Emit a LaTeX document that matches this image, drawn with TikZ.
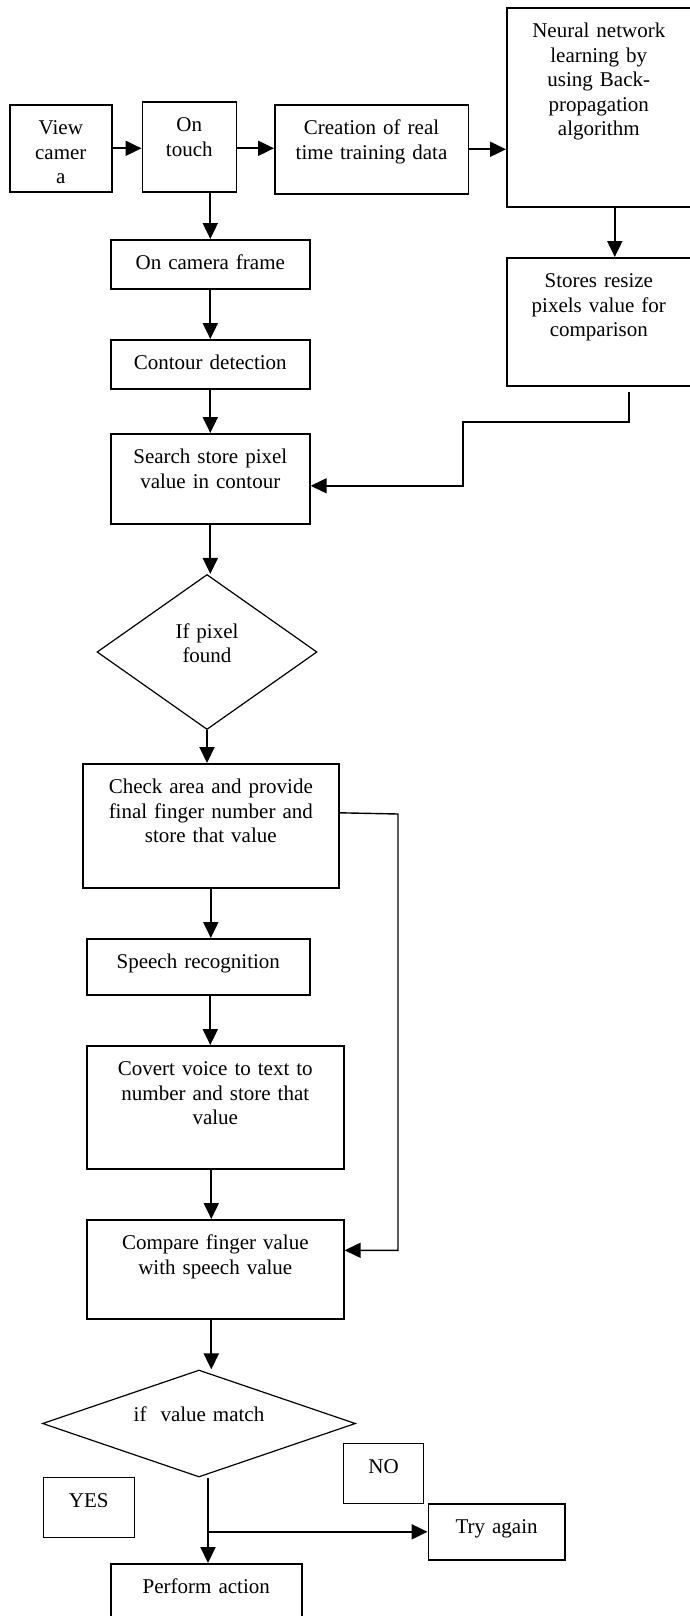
\documentclass[tikz,border=0pt]{standalone}
\usepackage{fontspec}
\setmainfont{Liberation Serif}
\usetikzlibrary{shapes.geometric,arrows.meta,positioning,calc}

\begin{document}
\begin{tikzpicture}[
    x=1pt, y=-1pt,
    font=\fontsize{21}{24.5}\selectfont,
    stepbox/.style={rectangle, draw, line width=1.6pt, align=center, anchor=north west, inner sep=0pt, text height=30pt},
    tagbox/.style={stepbox, line width=1.2pt},
    decision/.style={diamond, draw, line width=1.2pt, align=center, inner sep=0pt, text height=15pt},
    arrow/.style={-{Triangle[length=16pt,width=15pt]}, line width=2pt},
    link/.style={line width=1.4pt}
]
    \useasboundingbox (0,0) rectangle (689,1616);

    % top row
    \node[stepbox, text width=102pt, text depth=57pt] (view) at (9,104) {View\\camer\\a};
    \node[stepbox, text width=94pt, text depth=60pt] (touch) at (141.5,101) {On\\touch};
    \node[stepbox, text width=193.5pt, text depth=59pt] (creation) at (274,104) {Creation of real\\time training data};
    \node[stepbox, text width=184pt, text depth=169pt] (neural) at (506,7) {Neural network\\learning by\\using Back-\\propagation\\algorithm};
    \node[stepbox, text width=184pt, text depth=98pt] (stores) at (506,257) {Stores resize\\pixels value for\\comparison};

    % main column
    \node[stepbox, text width=199pt, text depth=19pt] (frame) at (110,239) {On camera frame};
    \node[stepbox, text width=199pt, text depth=19pt] (contour) at (110,339) {Contour detection};
    \node[stepbox, text width=199pt, text depth=60pt] (search) at (110,433) {Search store pixel\\value in contour};
    \node[decision, minimum width=220pt, minimum height=155pt, text width=80pt, text depth=43pt] (found) at (207,652) {If pixel\\found};
    \node[stepbox, text width=256pt, text depth=94pt] (check) at (82,763) {Check area and provide\\final finger number and\\store that value};
    \node[stepbox, text width=223pt, text depth=26pt] (speech) at (86,938) {Speech recognition};
    \node[stepbox, text width=257pt, text depth=93pt] (covert) at (86,1045) {Covert voice to text to\\number and store that\\value};
    \node[stepbox, text width=257pt, text depth=69pt] (compare) at (86,1219) {Compare finger value\\with speech value};
    \node[decision, shape aspect=2.9, minimum width=313pt, minimum height=107pt, text width=160pt, text depth=20pt] (match) at (199,1423.5) {if\ \ value match};

    % outcome
    \node[tagbox, text width=80pt, text depth=30pt] (no) at (343,1443) {NO};
    \node[tagbox, text width=91pt, text depth=30pt] (yes) at (42.6,1477) {YES};
    \node[stepbox, text width=136.5pt, text depth=26pt] (retry) at (427.5,1503) {Try again};
    \node[stepbox, text width=191pt, text depth=62pt] (perform) at (110,1563) {Perform action};

    \coordinate (jog) at (463,422);
    \coordinate (side) at (398,814);
    \coordinate (fork) at ([xshift=9pt]match.south |- retry.west);

    \draw[arrow] (view.east) -- (view.east -| touch.west);
    \draw[arrow] (touch.east |- view.east) -- (creation.west |- view.east);
    \draw[arrow] (creation.east) -- (creation.east -| neural.west);
    \draw[arrow] ([xshift=16pt]neural.south) -- ([xshift=16pt]stores.north);
    \draw[arrow] (frame.north |- touch.south) -- (frame.north);
    \draw[arrow] (frame) -- (contour);
    \draw[arrow] (contour) -- (search);
    \draw[arrow, link] ([xshift=30pt, yshift=-5pt]stores.south) |- (jog) |- ([yshift=-7pt]search.east);
    \draw[arrow] (search.south) -- (search.south |- found.north);
    \draw[arrow] (found.south) -- (found.south |- check.north);
    \draw[arrow] (check.south) -- (check.south |- speech.north);
    \draw[arrow, link] ([yshift=13pt]check.east) -- (side) |- ([yshift=19pt]compare.east);
    \draw[arrow] ([xshift=12pt]speech.south) -- ([xshift=12pt]speech.south |- covert.north);
    \draw[arrow] ([xshift=-4pt]covert.south) -- ([xshift=-4pt]covert.south |- compare.north);
    \draw[arrow] ([xshift=-4pt]compare.south) -- ([xshift=-4pt]compare.south |- match.north);
    \draw[arrow] ([xshift=9pt]match.south) -- ([xshift=9pt]match.south |- perform.north);
    \draw[arrow] (fork) -- (retry.west);
\end{tikzpicture}
\end{document}
